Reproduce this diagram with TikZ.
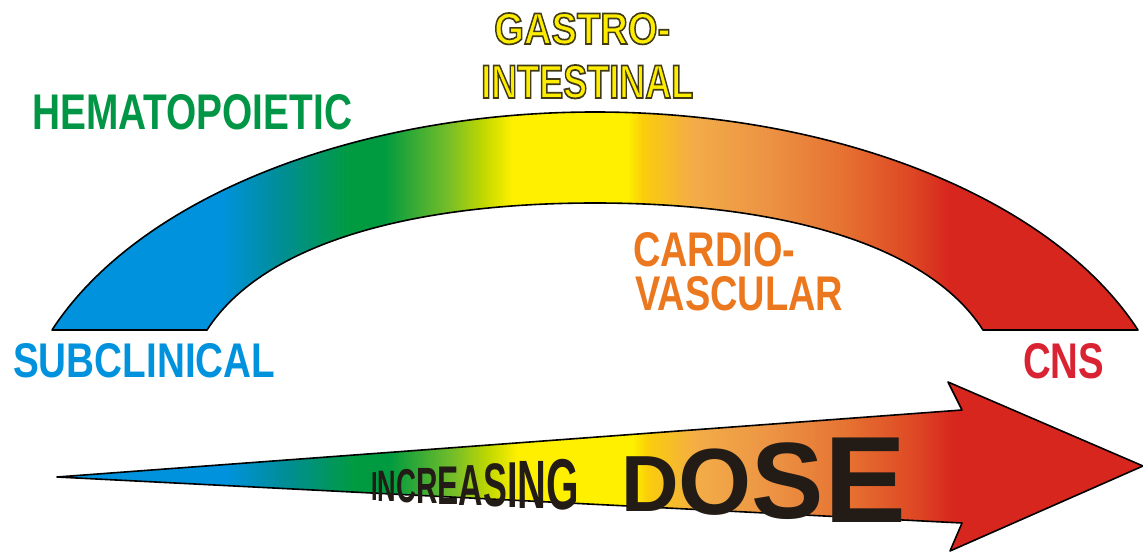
\documentclass[tikz,border=0pt]{standalone}
\usepackage{fontspec}
\setmainfont{Liberation Sans}
\usepackage{graphicx}
\definecolor{cblue}{RGB}{0,146,221}
\definecolor{cteal}{RGB}{0,142,150}
\definecolor{cgreen}{RGB}{0,155,64}
\definecolor{cyga}{RGB}{120,190,40}
\definecolor{cygb}{RGB}{190,215,0}
\definecolor{cyellow}{RGB}{255,240,0}
\definecolor{cgold}{RGB}{250,205,10}
\definecolor{clora}{RGB}{243,172,72}
\definecolor{clorb}{RGB}{236,148,68}
\definecolor{corange}{RGB}{230,115,50}
\definecolor{credor}{RGB}{222,72,36}
\definecolor{cred}{RGB}{215,38,30}
\definecolor{tgreen}{RGB}{0,150,70}
\definecolor{tblue}{RGB}{0,146,221}
\definecolor{tred}{RGB}{218,35,50}
\definecolor{torange}{RGB}{235,120,30}
\definecolor{tyellow}{RGB}{255,237,0}
\definecolor{tdark}{RGB}{35,28,22}
\pgfdeclarehorizontalshading{spectrum}{100bp}{color(0bp)=(cblue); color(32.8bp)=(cblue); color(35.5bp)=(cteal); color(38.7bp)=(cgreen); color(40.3bp)=(cgreen); color(43.3bp)=(cyga); color(44.8bp)=(cygb); color(46.2bp)=(cyellow); color(51.5bp)=(cyellow); color(52.2bp)=(cgold); color(54.5bp)=(clora); color(57.8bp)=(clorb); color(61.3bp)=(corange); color(64.5bp)=(credor); color(66.3bp)=(cred); color(100bp)=(cred)}
\newcommand{\outl}[1]{\special{pdf:literal direct 2 Tr 0.38 w 0.25 0.23 0.08 RG}#1\special{pdf:literal direct 0 Tr}}
\newcommand{\pL}[4]{\pgfmathsetmacro\myys{#1/28.64}\pgfmathsetmacro\myxs{#2*\myys}\raisebox{-#3pt}{\scalebox{\myxs}[\myys]{#4}}}
\tikzset{
  band/.style={shade, shading=spectrum, draw=black, line width=1.6, line join=round},
  lbl/.style={inner sep=0, anchor=base west, font=\bfseries},
}
\begin{document}
\begin{tikzpicture}[x=1pt,y=-1pt]
\useasboundingbox (0,0) rectangle (1143,553);
% arch
\path[band] (52,330) .. controls (140,195) and (360,112) .. (595,112)
  .. controls (830,112) and (1050,195) .. (1138,330) -- (983,330)
  .. controls (925,240) and (770,203) .. (595,203)
  .. controls (420,203) and (265,240) .. (207,330) -- cycle;
% arrow
\path[band] (57,477) -- (962,410) -- (948,382) -- (1143,466) -- (950,551) -- (962,523) -- cycle;
% labels
\node[lbl, text=tyellow] (gas) at (494,44) {\resizebox{176pt}{31pt}{\outl{GASTRO-}}};
\node[lbl, text=tyellow] (int) at (481,98) {\resizebox{212pt}{33pt}{\outl{INTESTINAL}}};
\node[lbl, text=tgreen] (hem) at (32,130) {\resizebox{320pt}{35pt}{HEMATOPOIETIC}};
\node[lbl, text=tblue] (sub) at (13,377) {\resizebox{262pt}{34pt}{SUBCLINICAL}};
\node[lbl, text=tred] (cns) at (1023,378) {\resizebox{81pt}{35pt}{CNS}};
\node[lbl, text=torange] (car) at (633,266) {\resizebox{162pt}{34pt}{CARDIO-}};
\node[lbl, text=torange] (vas) at (635,310) {\resizebox{208pt}{34pt}{VASCULAR}};
\node[lbl, text=tdark, font=\bfseries\fontsize{40pt}{40pt}\selectfont] (inc) at (371,500)
  {\pL{29}{0.583}{0}{I}\pL{31.5}{0.583}{1}{N}\pL{34}{0.583}{2}{C}\pL{36.5}{0.583}{3}{R}\pL{39}{0.583}{4}{E}\pL{41.5}{0.583}{5}{A}\pL{44}{0.583}{6}{S}\pL{46.5}{0.583}{7}{I}\pL{49}{0.583}{8}{N}\pL{51.5}{0.583}{9}{G}};
\node[lbl, text=tdark, font=\bfseries\fontsize{40pt}{40pt}\selectfont] (dose) at (621,511)
  {\pL{57}{1.0}{0}{D}\pL{67.3}{1.0}{3.7}{O}\pL{77.7}{1.0}{7.3}{S}\pL{88}{1.0}{11}{E}};
\end{tikzpicture}
\end{document}
